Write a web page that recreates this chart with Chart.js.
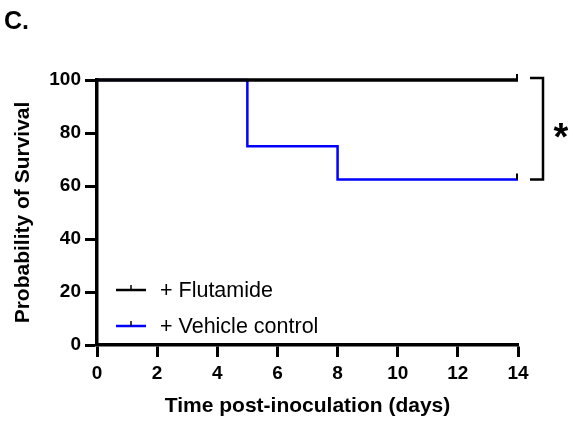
<!DOCTYPE html>
<html lang="en">
<head>
<meta charset="utf-8" />
<title>Survival</title>
<script src="https://cdn.jsdelivr.net/npm/chart.js@4.4.1/dist/chart.umd.min.js"></script>
<style>
  * { margin: 0; padding: 0; box-sizing: border-box; }
  body { width: 573px; height: 423px; background: #fff; overflow: hidden; }
  #wrap { position: relative; width: 573px; height: 423px; }
</style>
</head>
<body>
<div id="wrap"><canvas id="chart"></canvas></div>
<script>
  // Kaplan-Meier steps (day, % surviving)
  const seriesNames = ["+ Flutamide", "+ Vehicle control"];
  const seriesColors = ["#000000", "#0000ff"];
  const flutamideDays = [0, 14];
  const flutamideSurv = [100, 100];
  const vehicleDays = [0, 5, 8, 14];
  const vehicleSurv = [100, 75, 62.5, 62.5];
  // censored at end of study
  const censorDays = [14, 14];
  const xTicks = [0, 2, 4, 6, 8, 10, 12, 14];
  const yTicks = [0, 20, 40, 60, 80, 100];
  const sigLabel = "*";

  const FONT = "'Liberation Sans', Arial, sans-serif";

  function toPoints(xs, ys) {
    return xs.map((x, i) => ({ x: x, y: ys[i] }));
  }

  const datasets = [
    { label: seriesNames[0], data: toPoints(flutamideDays, flutamideSurv), borderWidth: 3 },
    { label: seriesNames[1], data: toPoints(vehicleDays, vehicleSurv), borderWidth: 2.5 },
  ].map((d, i) => Object.assign(d, {
    borderColor: seriesColors[i],
    backgroundColor: seriesColors[i],
    stepped: "before",
    pointRadius: 0,
    fill: false,
    clip: false,
  }));

  // censor ticks, legend, bracket and panel letter
  const extras = {
    id: "extras",
    afterDraw(chart) {
      const ctx = chart.ctx;
      const xs = chart.scales.x, ys = chart.scales.y;
      // flutamide curve on top where both curves sit at 100%
      const pts = chart.getDatasetMeta(0).data;
      ctx.save();
      ctx.strokeStyle = seriesColors[0];
      ctx.lineWidth = 3;
      ctx.beginPath();
      ctx.moveTo(pts[0].x, pts[0].y);
      for (let k = 1; k < pts.length; k++) {
        ctx.lineTo(pts[k].x, pts[k - 1].y);
        ctx.lineTo(pts[k].x, pts[k].y);
      }
      ctx.stroke();
      ctx.lineCap = "butt";
      // censor marks
      chart.data.datasets.forEach((ds, i) => {
        const last = ds.data[ds.data.length - 1];
        const px = xs.getPixelForValue(censorDays[i]);
        const py = ys.getPixelForValue(last.y);
        ctx.strokeStyle = "#000";
        ctx.lineWidth = 2;
        ctx.beginPath();
        ctx.moveTo(px - 1, py);
        ctx.lineTo(px - 1, py - 6);
        ctx.stroke();
      });

      // legend inside plot
      const legendY = [290, 326];
      chart.data.datasets.forEach((ds, i) => {
        const y = legendY[i];
        ctx.strokeStyle = ds.borderColor;
        ctx.lineWidth = 2.5;
        ctx.beginPath();
        ctx.moveTo(116, y);
        ctx.lineTo(146, y);
        ctx.stroke();
        ctx.strokeStyle = "#000";
        ctx.lineWidth = 1.5;
        ctx.beginPath();
        ctx.moveTo(131, y);
        ctx.lineTo(131, y - 5);
        ctx.stroke();
        ctx.fillStyle = "#000";
        ctx.font = "21.5px " + FONT;
        ctx.textBaseline = "middle";
        ctx.textAlign = "left";
        ctx.fillText(ds.label, 160, y + 1);
      });

      // significance bracket
      const top = ys.getPixelForValue(flutamideSurv[flutamideSurv.length - 1]);
      const bot = ys.getPixelForValue(vehicleSurv[vehicleSurv.length - 1]);
      const bx = xs.right + 25;
      ctx.strokeStyle = "#000";
      ctx.lineWidth = 2.5;
      ctx.beginPath();
      ctx.moveTo(bx - 13, top - 2);
      ctx.lineTo(bx, top - 2);
      ctx.lineTo(bx, bot);
      ctx.lineTo(bx - 13, bot);
      ctx.stroke();
      ctx.fillStyle = "#000";
      ctx.font = "bold 38px " + FONT;
      ctx.textAlign = "center";
      ctx.textBaseline = "middle";
      ctx.fillText(sigLabel, bx + 18, (top + bot) / 2 + 10);

      // panel letter
      ctx.font = "bold 25px " + FONT;
      ctx.textAlign = "left";
      ctx.textBaseline = "middle";
      ctx.fillText("C.", 4, 22);
      ctx.restore();
    },
  };

  const tickStyle = {
    display: true,
    drawOnChartArea: false,
    drawTicks: true,
    tickLength: 12,
    tickWidth: 3,
    color: "#000",
    tickColor: "#000",
  };

  new Chart(document.getElementById("chart"), {
    type: "line",
    data: { datasets: datasets },
    plugins: [extras],
    options: {
      responsive: true,
      maintainAspectRatio: false,
      animation: false,
      layout: { padding: { top: 80, right: 55, left: 0, bottom: 0 } },
      plugins: { legend: { display: false }, tooltip: { enabled: false } },
      scales: {
        x: {
          type: "linear",
          min: 0,
          max: 14,
          afterBuildTicks: (s) => { s.ticks = xTicks.map((v) => ({ value: v })); },
          afterFit: (s) => { s.height = 78; },
          border: { display: true, width: 3.5, color: "#000" },
          grid: tickStyle,
          ticks: { color: "#000", padding: 5, font: { family: FONT, size: 19, weight: "bold" } },
          title: {
            display: true,
            text: "Time post-inoculation (days)",
            color: "#000",
            font: { family: FONT, size: 21, weight: "bold" },
            padding: { top: 0, bottom: 4 },
          },
        },
        y: {
          min: 0,
          max: 100,
          afterBuildTicks: (s) => { s.ticks = yTicks.map((v) => ({ value: v })); },
          afterFit: (s) => { s.width = 97; },
          border: { display: true, width: 3.5, color: "#000" },
          grid: tickStyle,
          ticks: { color: "#000", padding: 4, font: { family: FONT, size: 19, weight: "bold" } },
          title: {
            display: true,
            text: "Probability of Survival",
            color: "#000",
            font: { family: FONT, size: 21, weight: "bold" },
            padding: { top: 11, bottom: 0 },
          },
        },
      },
    },
  });
</script>
</body>
</html>
